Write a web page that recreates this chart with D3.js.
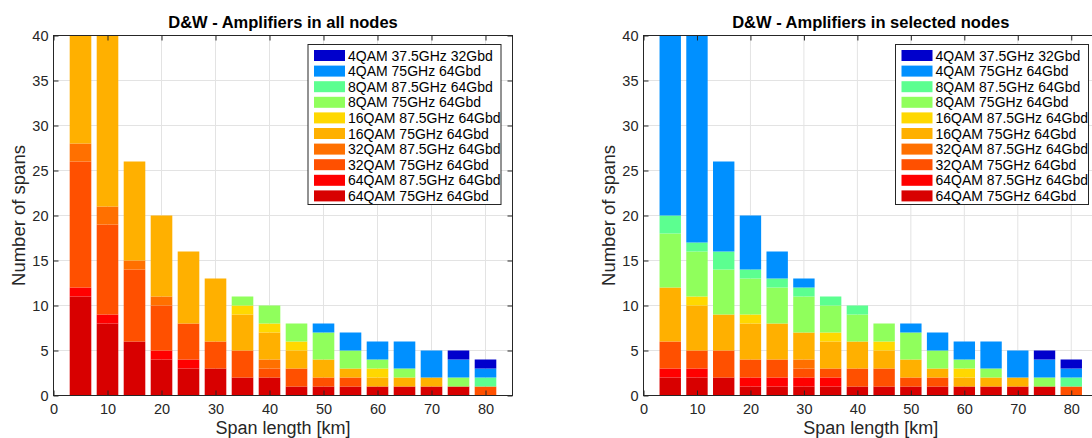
<!DOCTYPE html>
<html>
<head>
<meta charset="utf-8">
<script src="https://cdn.jsdelivr.net/npm/d3@7/dist/d3.min.js"></script>
<style>
  body { margin: 0; background: #fff; }
  svg { display: block; font-family: "Liberation Sans", Arial, sans-serif; }
  .tick text { fill: #262626; font-size: 14.5px; }
  .tick line { stroke: #262626; }
</style>
</head>
<body>
<svg id="fig" width="1092" height="438"></svg>
<script>
// span lengths (bar centres, km)
var spans = [5, 10, 15, 20, 25, 30, 35, 40, 45, 50, 55, 60, 65, 70, 75, 80];
var xTicks = [0, 10, 20, 30, 40, 50, 60, 70, 80];
var yTicks = [0, 5, 10, 15, 20, 25, 30, 35, 40];

// legend order (top to bottom); stacking goes the other way
var formats = ["4QAM 37.5GHz 32Gbd", "4QAM 75GHz 64Gbd", "8QAM 87.5GHz 64Gbd", "8QAM 75GHz 64Gbd",
  "16QAM 87.5GHz 64Gbd", "16QAM 75GHz 64Gbd", "32QAM 87.5GHz 64Gbd", "32QAM 75GHz 64Gbd",
  "64QAM 87.5GHz 64Gbd", "64QAM 75GHz 64Gbd"];
var colors = ["#0000cc", "#0090ff", "#5cff90", "#90ff5c", "#ffd800", "#ffb000",
  "#ff7000", "#ff5000", "#ff0000", "#d80000"];

// D&W - amplifiers in all nodes (same order as formats)
var allNodes = [
  [0,0,0,0,0,0,0,0,0,0,0,0,0,0,1,1],
  [0,0,0,0,0,0,0,0,0,1,2,2,3,3,2,1],
  [0,0,0,0,0,0,0,0,0,0,0,0,0,0,0,1],
  [0,0,0,0,0,0,1,2,2,3,2,1,1,0,1,0],
  [0,0,0,0,0,0,1,1,1,0,0,1,0,0,0,0],
  [20,31,11,9,8,7,4,3,2,2,1,1,1,1,0,0],
  [2,2,1,1,0,0,0,1,0,0,0,0,0,0,0,0],
  [14,10,8,5,4,3,3,1,2,1,1,0,0,0,0,1],
  [1,1,0,1,1,0,0,0,0,0,0,0,0,0,0,0],
  [11,8,6,4,3,3,2,2,1,1,1,1,1,1,1,0]
];
// D&W - amplifiers in selected nodes
var selNodes = [
  [0,0,0,0,0,0,0,0,0,0,0,0,0,0,1,1],
  [28,35,10,6,3,1,0,0,0,1,2,2,3,3,2,1],
  [2,1,2,1,1,1,1,1,0,0,0,0,0,0,0,1],
  [6,5,5,4,4,4,3,3,2,3,2,1,1,0,1,0],
  [0,1,0,1,0,0,1,0,1,0,0,1,0,0,0,0],
  [6,5,4,4,4,3,3,3,2,2,1,1,1,1,0,0],
  [0,0,0,0,0,1,0,0,0,0,0,0,0,0,0,0],
  [3,2,3,2,2,1,1,2,2,1,1,0,0,0,0,1],
  [1,1,0,1,1,1,1,0,0,0,0,0,0,0,0,0],
  [2,2,2,1,1,1,1,1,1,1,1,1,1,1,1,0]
];

var svg = d3.select("#fig");

function drawPanel(id, title, values, box) {
    var x = d3.scaleLinear().domain([0, 85]).range([box.left, box.right]);
    var y = d3.scaleLinear().domain([0, 40]).range([box.bottom, box.top]);
    var g = svg.append("g").attr("class", "panel");

    g.append("clipPath").attr("id", "clip" + id)
      .append("rect")
        .attr("x", box.left).attr("y", box.top)
        .attr("width", box.right - box.left)
        .attr("height", box.bottom - box.top);

    // grid
    g.selectAll(".gx").data(xTicks.slice(1)).enter().append("line")
        .attr("x1", d => x(d)).attr("x2", d => x(d))
        .attr("y1", box.top).attr("y2", box.bottom)
        .attr("stroke", "#e3e3e3");
    g.selectAll(".gy").data(yTicks.slice(1, -1)).enter().append("line")
        .attr("x1", box.left).attr("x2", box.right)
        .attr("y1", d => y(d)).attr("y2", d => y(d))
        .attr("stroke", "#e3e3e3");

    // stacked bars, bottom = last format
    var order = d3.range(formats.length).reverse();
    var bw = x(4) - x(0);
    var gb = g.append("g").attr("clip-path", "url(#clip" + id + ")");
    spans.forEach(function (s, i) {
        var base = 0;
        order.forEach(function (k) {
            var v = values[k][i];
            if (v > 0) {
                gb.append("rect")
                    .attr("x", x(s) - bw / 2)
                    .attr("width", bw)
                    .attr("y", y(base + v))
                    .attr("height", y(base) - y(base + v))
                    .attr("fill", colors[k]);
            }
            base += v;
        });
    });

    // axes, ticks inside
    g.append("g").attr("transform", "translate(0," + box.bottom + ")")
        .call(d3.axisBottom(x).tickValues(xTicks).tickSizeInner(-5).tickSizeOuter(0).tickPadding(8))
        .call(a => a.select(".domain").remove());
    g.append("g").attr("transform", "translate(0," + box.top + ")")
        .call(d3.axisTop(x).tickValues(xTicks).tickSizeInner(-5).tickSizeOuter(0).tickFormat(""))
        .call(a => a.select(".domain").remove());
    g.append("g").attr("transform", "translate(" + box.left + ",0)")
        .call(d3.axisLeft(y).tickValues(yTicks).tickSizeInner(-5).tickSizeOuter(0).tickPadding(5))
        .call(a => a.select(".domain").remove());
    g.append("g").attr("transform", "translate(" + box.right + ",0)")
        .call(d3.axisRight(y).tickValues(yTicks).tickSizeInner(-5).tickSizeOuter(0).tickFormat(""))
        .call(a => a.select(".domain").remove());

    g.append("rect")
        .attr("x", box.left).attr("y", box.top)
        .attr("width", box.right - box.left).attr("height", box.bottom - box.top)
        .attr("fill", "none").attr("stroke", "#262626").attr("stroke-width", 1);

    // titles
    g.append("text")
        .attr("x", (box.left + box.right) / 2).attr("y", 28)
        .attr("text-anchor", "middle")
        .attr("font-size", 16.5).attr("font-weight", "bold").attr("fill", "#000")
        .text(title);
    g.append("text")
        .attr("x", (box.left + box.right) / 2).attr("y", 434)
        .attr("text-anchor", "middle")
        .attr("font-size", 18).attr("fill", "#262626")
        .text("Span length [km]");
    g.append("text")
        .attr("transform", "translate(" + (box.left - 28.5) + "," + ((box.top + box.bottom) / 2) + ") rotate(-90)")
        .attr("text-anchor", "middle")
        .attr("font-size", 18.5).attr("fill", "#262626")
        .text("Number of spans");

    // legend
    var lw = 193, lx = box.legendRight - lw, ly = box.top + 9;
    var lg = g.append("g").attr("transform", "translate(" + lx + "," + ly + ")");
    lg.append("rect").attr("width", lw).attr("height", 160)
        .attr("fill", "#fff").attr("stroke", "#262626").attr("stroke-width", 1);
    formats.forEach(function (f, k) {
        var cy = 11 + k * 15.6;
        lg.append("rect").attr("x", 6).attr("y", cy - 5.5)
            .attr("width", 31).attr("height", 11).attr("fill", colors[k]);
        lg.append("text").attr("x", 40).attr("y", cy + 5)
            .attr("font-size", 14).attr("fill", "#000").text(f);
    });
}

drawPanel("a", "D&W - Amplifiers in all nodes", allNodes,
    {left: 53.5, right: 512.5, top: 35.5, bottom: 395.5, legendRight: 501});
drawPanel("b", "D&W - Amplifiers in selected nodes", selNodes,
    {left: 643.5, right: 1098, top: 35.5, bottom: 395.5, legendRight: 1088.5});
</script>
</body>
</html>
